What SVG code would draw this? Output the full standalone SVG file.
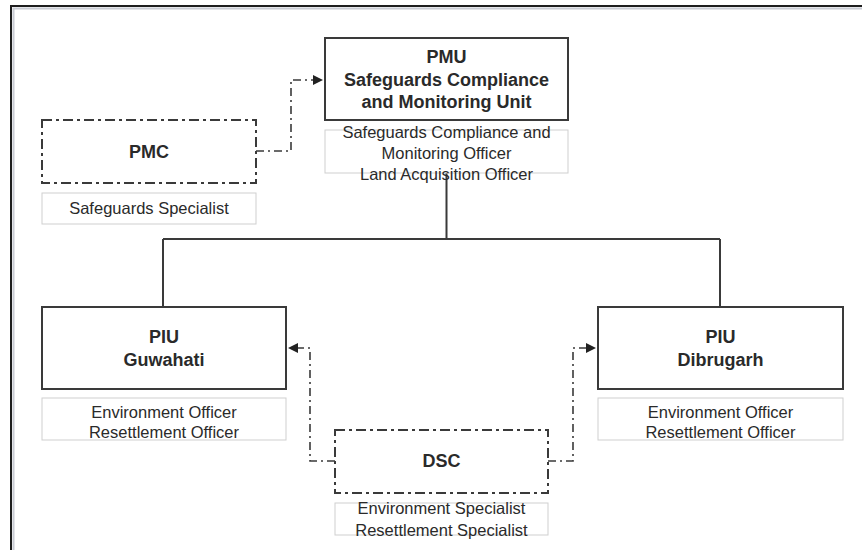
<svg xmlns="http://www.w3.org/2000/svg" width="862" height="550" viewBox="0 0 862 550">
<style>
.bg{fill:#ffffff}
.main{fill:#ffffff;stroke:#3a3a3a;stroke-width:2}
.dash{fill:#ffffff;stroke:#3a3a3a;stroke-width:2;stroke-dasharray:10 4 3 4}
.sub{fill:#ffffff;stroke:#cfcfcf;stroke-width:1}
.b{font-family:"Liberation Sans",Arial,sans-serif;font-weight:bold;font-size:18px;fill:#2a2a2a;text-anchor:middle}
.r{font-family:"Liberation Sans",Arial,sans-serif;font-size:16.5px;fill:#2a2a2a;text-anchor:middle}
.line{fill:none;stroke:#3a3a3a;stroke-width:2}
.dl{fill:none;stroke:#3a3a3a;stroke-width:1.6;stroke-dasharray:8 4 2 4}
</style>
<defs>
<marker id="arr" viewBox="0 0 10 10" refX="10" refY="5" markerWidth="10" markerHeight="10" markerUnits="userSpaceOnUse" orient="auto">
<path d="M0,0 L10,5 L0,10 z" fill="#222"/>
</marker>
</defs>
<rect class="bg" x="0" y="0" width="862" height="550"/>
<path d="M13.5 560 V8.5 H870" fill="none" stroke="#c9ccd4" stroke-width="2"/>
<path d="M11 560 V6 H870" fill="none" stroke="#1e1e1e" stroke-width="2"/>

<g id="connectors">
<path class="line" d="M446.5 173 V239 M163 239 H720 M163 239 V307 M720 239 V307"/>
<path class="dl" d="M256 151 H291 V80 H323" marker-end="url(#arr)"/>
<path class="dl" d="M335 461 H310 V348 H288" marker-end="url(#arr)"/>
<path class="dl" d="M548 461 H573 V348 H596" marker-end="url(#arr)"/>
</g>

<g id="pmu">
<rect class="main" x="325" y="38" width="243" height="82"/>
<text class="b" x="446.5" y="63">PMU</text>
<text class="b" x="446.5" y="86">Safeguards Compliance</text>
<text class="b" x="446.5" y="108">and Monitoring Unit</text>
</g>
<g id="pmu-staff">
<rect class="sub" x="325" y="130" width="243" height="43"/>
<text class="r" x="446.5" y="138">Safeguards Compliance and</text>
<text class="r" x="446.5" y="159">Monitoring Officer</text>
<text class="r" x="446.5" y="180">Land Acquisition Officer</text>
</g>

<g id="pmc">
<rect class="dash" x="42" y="120" width="214" height="63"/>
<text class="b" x="149" y="158">PMC</text>
</g>
<g id="pmc-staff">
<rect class="sub" x="42" y="193" width="214" height="31"/>
<text class="r" x="149" y="214">Safeguards Specialist</text>
</g>

<g id="piu-guwahati">
<rect class="main" x="42" y="307" width="244" height="82"/>
<text class="b" x="164" y="343">PIU</text>
<text class="b" x="164" y="366">Guwahati</text>
</g>
<g id="piu-guwahati-staff">
<rect class="sub" x="42" y="398" width="244" height="42"/>
<text class="r" x="164" y="418">Environment Officer</text>
<text class="r" x="164" y="438">Resettlement Officer</text>
</g>

<g id="piu-dibrugarh">
<rect class="main" x="598" y="307" width="245" height="82"/>
<text class="b" x="720.5" y="343">PIU</text>
<text class="b" x="720.5" y="366">Dibrugarh</text>
</g>
<g id="piu-dibrugarh-staff">
<rect class="sub" x="598" y="398" width="245" height="42"/>
<text class="r" x="720.5" y="418">Environment Officer</text>
<text class="r" x="720.5" y="438">Resettlement Officer</text>
</g>

<g id="dsc">
<rect class="dash" x="335" y="430" width="213" height="63"/>
<text class="b" x="441.5" y="467">DSC</text>
</g>
<g id="dsc-staff">
<rect class="sub" x="335" y="503" width="213" height="32"/>
<text class="r" x="441.5" y="514">Environment Specialist</text>
<text class="r" x="441.5" y="536">Resettlement Specialist</text>
</g>
</svg>
